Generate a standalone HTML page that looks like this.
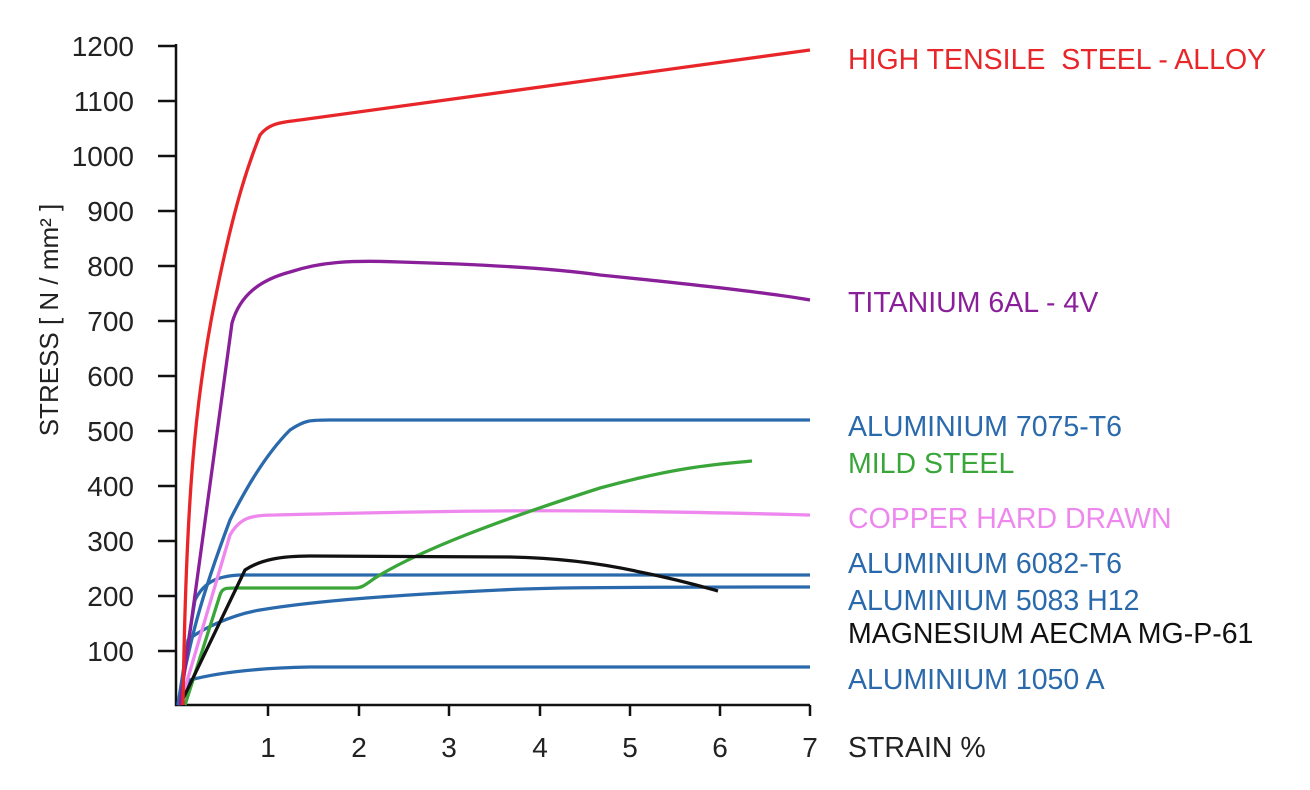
<!DOCTYPE html>
<html><head><style>body{margin:0;background:#fff}svg{display:block}text{font-family:"Liberation Sans",sans-serif}</style></head>
<body>
<svg width="1310" height="790" viewBox="0 0 1310 790">
<g stroke="#111" stroke-width="2.5" fill="none">
<path d="M176,44 V705 H810"/>
<path d="M158,46 H176 M158,101 H176 M158,156 H176 M158,211 H176 M158,266 H176 M158,321 H176 M158,376 H176 M158,431 H176 M158,486 H176 M158,541 H176 M158,596 H176 M158,651 H176"/>
<path d="M268,705 V716 M359,705 V716 M449,705 V716 M540,705 V716 M630,705 V716 M720,705 V716 M810,705 V716"/>
</g>
<g font-size="28" fill="#222" text-anchor="end">
<text x="134" y="56">1200</text><text x="134" y="111">1100</text><text x="134" y="166">1000</text>
<text x="134" y="221">900</text><text x="134" y="276">800</text><text x="134" y="331">700</text>
<text x="134" y="386">600</text><text x="134" y="441">500</text><text x="134" y="496">400</text>
<text x="134" y="551">300</text><text x="134" y="606">200</text><text x="134" y="661">100</text>
</g>
<g font-size="28" fill="#222" text-anchor="middle">
<text x="268" y="757">1</text><text x="359" y="757">2</text><text x="449" y="757">3</text><text x="540" y="757">4</text><text x="630" y="757">5</text><text x="720" y="757">6</text><text x="810" y="757">7</text>
</g>
<text x="848" y="757" font-size="28.5" fill="#222">STRAIN %</text>
<text transform="translate(58,320) rotate(-90)" font-size="26" fill="#222" text-anchor="middle">STRESS [ N / mm² ]</text>
<g fill="none" stroke-width="3.3" stroke-linejoin="round">
<path stroke="#2a6aac" d="M178,705 L190,680 C220,672 260,668 310,667 L810,667"/>
<path stroke="#2a6aac" d="M178,705 L188,640 C200,630 230,615 260,610 C320,600 400,595 500,590 C540,588 580,587 810,587"/>
<path stroke="#2a6aac" d="M178,705 L195,600 C205,580 220,576 240,575 L810,575"/>
<path stroke="#2a6aac" d="M178,705 C190,640 200,600 230,520 C250,480 270,450 290,430 C305,420 310,420 330,420 L810,420"/>
<path stroke="#ee88ee" d="M180,705 L230,535 C240,518 250,515 275,515 C400,512 500,510 600,511 C700,512 770,514 810,515"/>
<path stroke="#3aa63a" d="M185,705 L220,595 C222,588 226,588 235,588 L355,588 C362,588 365,585 375,578 C420,550 500,520 600,488 C680,466 720,464 752,461"/>
<path stroke="#111" d="M180,705 L245,570 C260,560 280,556 310,556 L510,557 C560,558 600,563 640,572 C680,580 700,586 718,591"/>
<path stroke="#8a1f9a" d="M180,705 L232,323 C240,295 260,280 290,272 C320,262 350,260 400,262 C470,264 550,268 600,275 C700,285 770,293 810,300"/>
<path stroke="#e8262a" d="M183,705 C186,500 195,400 215,300 C235,200 250,160 260,135 C270,122 285,122 300,120 L810,50"/>
</g>
<g font-size="28.5">
<text x="848" y="69" fill="#e8262a" xml:space="preserve">HIGH TENSILE  STEEL - ALLOY</text>
<text x="848" y="312" fill="#8a1f9a">TITANIUM 6AL - 4V</text>
<text x="848" y="436" fill="#2a6aac">ALUMINIUM 7075-T6</text>
<text x="848" y="473" fill="#3aa63a">MILD STEEL</text>
<text x="848" y="528" fill="#ee88ee">COPPER HARD DRAWN</text>
<text x="848" y="573" fill="#2a6aac">ALUMINIUM 6082-T6</text>
<text x="848" y="610" fill="#2a6aac">ALUMINIUM 5083 H12</text>
<text x="848" y="643" fill="#111">MAGNESIUM AECMA MG-P-61</text>
<text x="848" y="689" fill="#2a6aac">ALUMINIUM 1050 A</text>
</g>
</svg>
</body></html>
